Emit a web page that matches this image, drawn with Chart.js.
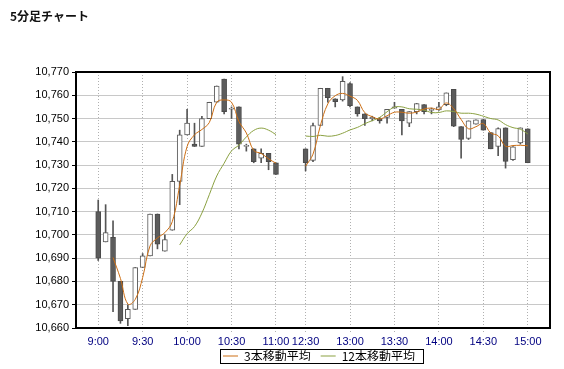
<!DOCTYPE html>
<html><head><meta charset="utf-8">
<script src="https://cdn.jsdelivr.net/npm/chart.js@4.4.1/dist/chart.umd.min.js"></script>
<style>html,body{margin:0;padding:0;background:#fff;}canvas{display:block;}</style>
</head><body>
<canvas id="c" width="564" height="369"></canvas>
<script>
const titleText = '5分足チャート';
const seriesNames = ['3本移動平均', '12本移動平均'];

const times = ['9:00','9:05','9:10','9:15','9:20','9:25','9:30','9:35','9:40','9:45','9:50','9:55',
  '10:00','10:05','10:10','10:15','10:20','10:25','10:30','10:35','10:40','10:45','10:50','10:55','11:00',
  '12:30','12:35','12:40','12:45','12:50','12:55','13:00','13:05','13:10','13:15','13:20','13:25',
  '13:30','13:35','13:40','13:45','13:50','13:55','14:00','14:05','14:10','14:15','14:20','14:25',
  '14:30','14:35','14:40','14:45','14:50','14:55','15:00'];

const open  = [10710,10697,10699,10680,10664,10668,10686,10691,10709,10693,10702,10723,
  10743,10739,10738,10750,10757,10767,10754,10755,10738,10737,10733,10735,10731,
  10737,10732,10747,10763,10758.5,10758,10765,10755,10752,10750,10750,10750.5,
  10754.5,10754,10748,10753,10756,10753.5,10753.7,10756,10762.5,10746.5,10741.5,10747.6,
  10749.6,10744,10738,10746,10732.3,10739.5,10745.6];
const high  = [10715,10713,10706,10680,10670,10686,10692,10709,10709,10700,10726,10745,
  10754,10748,10751,10757,10764,10767,10755,10755,10739,10737,10737,10735,10731,
  10737,10748,10763,10763,10758.5,10768,10765.5,10755,10752,10751,10750.5,10754,
  10757,10754,10753,10756.5,10756,10754.5,10757,10761,10762.5,10746.5,10749,10749.5,
  10749.6,10744,10746,10746,10738,10746,10745.6];
const low   = [10689,10697,10667,10662,10661,10668,10686,10691,10694,10693,10702,10713,
  10743,10738,10738,10750,10757,10752,10750,10737,10736,10731,10731,10728,10726,
  10727.5,10731.5,10747,10757,10755,10757.5,10755,10751,10747,10749,10748,10748,
  10754.5,10743,10746.5,10752,10752,10752,10753.5,10755.5,10746.5,10733,10741,10747.6,
  10745,10737,10734,10728.7,10732,10739,10731];
const close = [10690,10701,10680,10663,10668,10686,10691,10709,10696,10698,10723,10743,
  10748,10738,10750,10757,10764,10753,10754,10739,10738.5,10731.5,10735,10731.5,10726,
  10731,10747,10763,10759,10757.3,10766,10755.5,10752,10750,10750.5,10749,10754,
  10755,10749,10753,10756.4,10753,10754,10755,10761,10746.7,10741,10749,10749.5,
  10745,10737,10745.7,10731.6,10737.8,10746,10731];

const ma3 = [null,null,10690.3,10681.3,10670.3,10672.3,10681.7,10695.3,10698.7,10701,10705.7,10721.3,
  10738,10743,10745.3,10748.3,10757,10758,10757,10748.7,10743.8,10736.3,10735,10732.7,10730.8,
  10729.5,10734.7,10747,10756.3,10759.8,10760.8,10759.6,10757.8,10752.5,10750.8,10749.8,10751.2,
  10752.7,10752.7,10752.3,10752.8,10754.1,10754.5,10754,10756.7,10754.2,10749.6,10745.6,10746.5,
  10747.8,10743.8,10742.6,10738.1,10738.4,10738.5,10738.3];
const ma12 = [null,null,null,null,null,null,null,null,null,null,null,10695.7,
  10700.5,10703.6,10709.4,10717.3,10725.3,10730.8,10736.1,10738.6,10742.1,10744.9,10745.9,10745,10743.1,
  10742.5,10742.3,10742.8,10742.4,10742.7,10743.7,10745.1,10746.2,10747.8,10749.1,10750.5,10752.9,
  10754.9,10755,10754.2,10754,10753.6,10752.6,10752.6,10753.3,10753,10752.3,10752.3,10751.9,
  10751,10750,10749.4,10747.4,10746.1,10745.4,10743.4];

const yMin = 10660, yMax = 10770, yStep = 10;

// empty slots at both ends and across the lunch break
const brk = times.indexOf('12:30');
const blanks = (n, v) => Array(n).fill(v);
const toSlots = (arr, v) => [...blanks(3, v), ...arr.slice(0, brk), ...blanks(3, v), ...arr.slice(brk), ...blanks(3, v)];
const labels = toSlots(times, '');
const isMajor = l => /:(00|30)$/.test(l);
const bodies = toSlots(times.map((t, i) => [open[i], close[i]]), null);
const wicks  = toSlots(times.map((t, i) => [low[i], high[i]]), null);

const up = ctx => { const r = ctx.raw; return !r || r[1] >= r[0]; };
const LEG_SHIFT_X = 6, LEG_SHIFT_Y = -8;

const framePlugin = {
  id: 'frame',
  afterLayout(chart) {
    const lg = chart.legend;
    if (lg) {
      lg.left += LEG_SHIFT_X; lg.right += LEG_SHIFT_X;
      lg.top += LEG_SHIFT_Y; lg.bottom += LEG_SHIFT_Y;
    }
  },
  afterDraw(chart) {
    const {ctx, chartArea: a} = chart;
    ctx.save();
    ctx.strokeStyle = '#000';
    ctx.lineWidth = 2;
    ctx.strokeRect(a.left, a.top, a.right - a.left, a.bottom - a.top);
    const hb = chart.legend && chart.legend.legendHitBoxes;
    if (hb && hb.length) {
      const l = Math.min(...hb.map(h => h.left)) - 3;
      const r = Math.max(...hb.map(h => h.left + h.width)) + 8;
      const t = Math.min(...hb.map(h => h.top)) - 1;
      const b = Math.max(...hb.map(h => h.top + h.height)) + 1;
      ctx.lineWidth = 1;
      ctx.strokeRect(Math.round(l) + 0.5, Math.round(t) + 0.5, Math.round(r - l), Math.round(b - t));
    }
    ctx.restore();
  }
};

new Chart(document.getElementById('c'), {
  type: 'bar',
  data: {
    labels,
    datasets: [
      { type: 'line', label: seriesNames[0], data: toSlots(ma3, null), borderColor: '#cc6e14', backgroundColor: '#cc6e14',
        borderWidth: 1, pointRadius: 0, tension: 0.4, spanGaps: false, order: 0 },
      { type: 'line', label: seriesNames[1], data: toSlots(ma12, null), borderColor: '#8aa040', backgroundColor: '#8aa040',
        borderWidth: 1, pointRadius: 0, tension: 0.4, spanGaps: false, order: 0 },
      { label: 'body', data: bodies, barThickness: 5, minBarLength: 1, grouped: false, borderSkipped: false, borderWidth: 1,
        backgroundColor: c => up(c) ? '#ffffff' : '#5c5c5c', borderColor: c => up(c) ? '#5a5a5a' : '#4a4a4a', order: 1 },
      { label: 'wick', data: wicks, barThickness: 1, grouped: false, borderWidth: 0, backgroundColor: '#555555', order: 2 }
    ]
  },
  options: {
    responsive: false,
    animation: false,
    layout: { padding: { left: 10, right: 14, top: 0, bottom: 0 } },
    plugins: {
      tooltip: { enabled: false },
      title: { display: true, text: titleText, align: 'start', color: '#111',
        font: { family: "'Noto Sans CJK JP', sans-serif", size: 12, weight: 'bold' },
        padding: { top: 9, bottom: 48.6 } },
      legend: {
        position: 'bottom', fullSize: false, maxHeight: 21,
        labels: {
          color: '#000', boxWidth: 15, boxHeight: 1, padding: 10,
          font: { family: "'Noto Sans CJK JP', sans-serif", size: 12 },
          filter: item => seriesNames.includes(item.text),
          generateLabels: chart => Chart.defaults.plugins.legend.labels.generateLabels(chart).map(l => ({...l, lineWidth: 0}))
        }
      }
    },
    scales: {
      x: {
        type: 'category', offset: false,
        grid: { offset: false, color: c => isMajor(labels[c.index]) ? '#b0b0b0' : 'rgba(0,0,0,0)',
          tickColor: c => isMajor(labels[c.index]) ? '#b0b0b0' : 'rgba(0,0,0,0)', tickLength: 4, tickBorderDash: [1, 2] },
        border: { display: false, dash: [1, 2] },
        ticks: { autoSkip: false, maxRotation: 0, padding: 3, color: '#000080',
          font: { family: "'Liberation Sans', Arial, sans-serif", size: 11 },
          callback: (v, i) => isMajor(labels[i]) ? labels[i] : '' },
        afterFit: s => { s.height = 20; }
      },
      y: {
        min: yMin, max: yMax,
        grid: { color: '#c8c8c8', tickColor: '#000', tickLength: 4 },
        border: { display: false },
        ticks: { stepSize: yStep, padding: 3, color: '#000',
          font: { family: "'Liberation Sans', Arial, sans-serif", size: 11 },
          callback: v => v.toLocaleString('en-US') },
        afterFit: s => { s.width = 66; }
      }
    }
  },
  plugins: [framePlugin]
});
</script>
</body></html>
